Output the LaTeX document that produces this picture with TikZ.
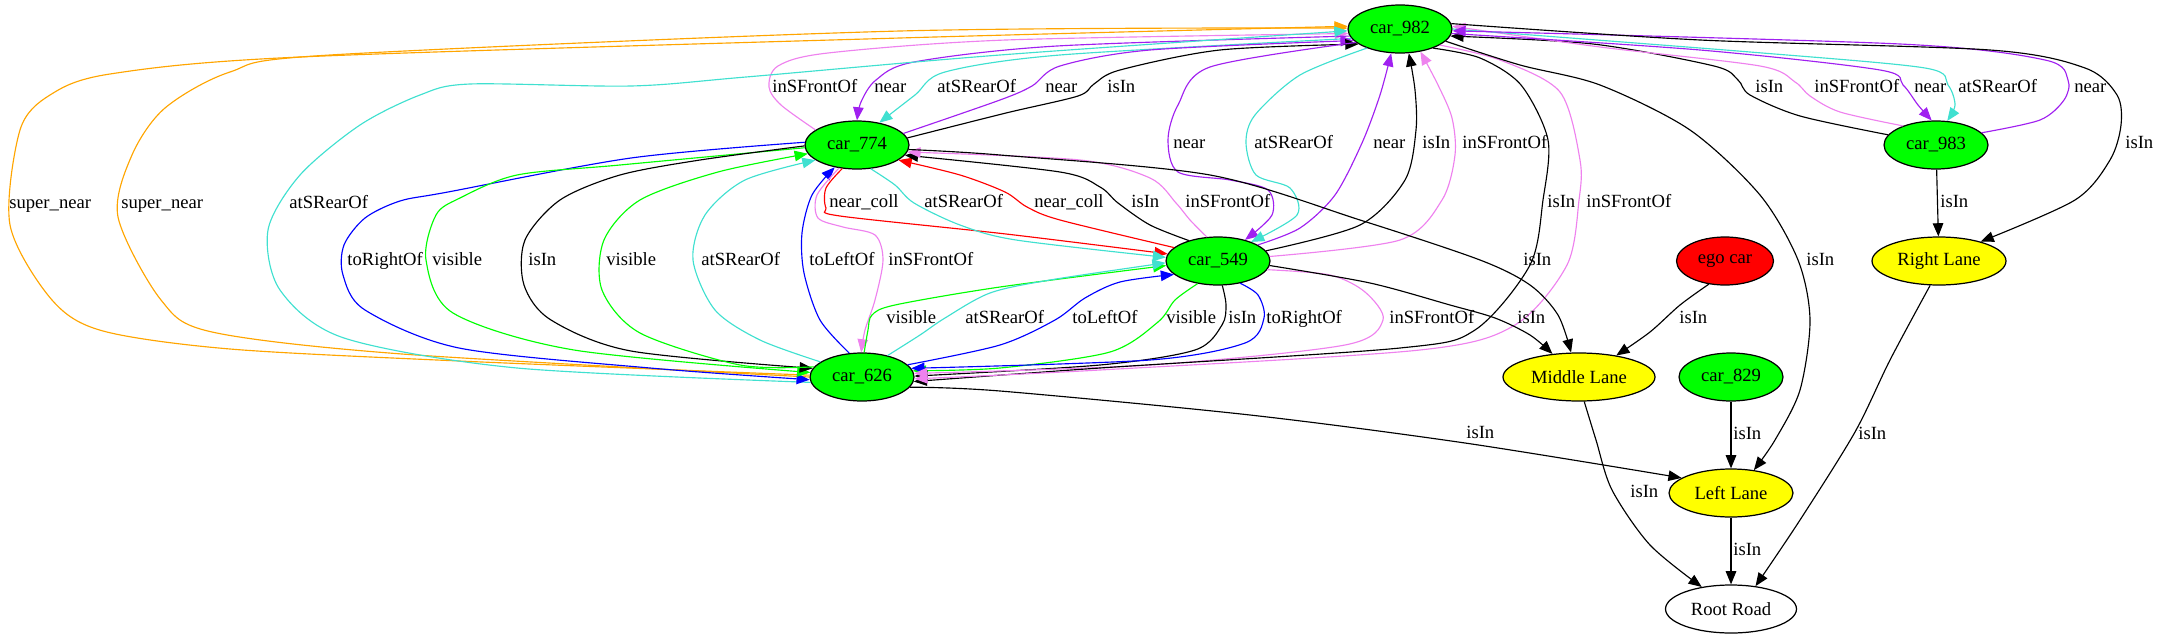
\documentclass[tikz,border=0pt]{standalone}
\usepackage{fontspec}
\setmainfont{Liberation Serif}
\usetikzlibrary{arrows.meta,shapes.geometric}
\definecolor{cGreen}{HTML}{00FF00}
\definecolor{cRed}{HTML}{FF0000}
\definecolor{cYellow}{HTML}{FFFF00}
\definecolor{cOrange}{HTML}{FFA500}
\definecolor{cTurq}{HTML}{40E0D0}
\definecolor{cViolet}{HTML}{EE82EE}
\definecolor{cPurple}{HTML}{A020F0}
\definecolor{cBlue}{HTML}{0000FF}
\newcommand{\gvf}{\fontsize{10.6pt}{12pt}\selectfont}
\tikzset{
  obj/.style={ellipse,draw,line width=0.7pt,inner sep=0pt,minimum height=0.96cm,font=\gvf},
  car/.style={obj,fill=cGreen,minimum width=2.08cm},
  lane/.style={obj,fill=cYellow},
  rel/.style={line width=0.65pt,-{Triangle[length=7.5pt,width=6pt]}},
  lbl/.style={anchor=west,inner sep=0pt,text height=1.45ex,text depth=0.2ex,font=\gvf},
}

\begin{document}
\begin{tikzpicture}[x=0.02cm,y=-0.02cm]
    \useasboundingbox (0,0) rectangle (2157,639);
    % objects
    \node[car] (c982) at (1400,29) {car\_982};
    \node[car] (c774) at (857,145) {car\_774};
    \node[car] (c983) at (1936,145) {car\_983};
    \node[car] (c549) at (1218,261) {car\_549};
    \node[car] (c626) at (862,377) {car\_626};
    \node[car] (c829) at (1731,377) {car\_829};
    \node[obj,fill=cRed,minimum width=1.94cm] (ego) at (1725,261) {ego car};
    \node[lane,minimum width=2.68cm] (rl) at (1939,261) {Right Lane};
    \node[lane,minimum width=3.04cm] (ml) at (1579,377) {Middle Lane};
    \node[lane,minimum width=2.48cm] (ll) at (1731,493) {Left Lane};
    \node[obj,minimum width=2.62cm] (rr) at (1731,609) {Root Road};
    % car_774 <-> car_982
    \draw[rel,cViolet] plot[smooth] coordinates {(c774.160) (781,105) (769,87) (778,66) (828,53) (1006,40) (c982.185)};
    \node[lbl] (l1) at (772,87) {inSFrontOf};
    \draw[rel,cPurple] plot[smooth] coordinates {(c982.188) (1057,46) (914,62) (876,80) (861,102) (c774.90)};
    \node[lbl] (l2) at (874,87) {near};
    \draw[rel,cTurq] plot[smooth] coordinates {(c982.191) (1060,55) (945,72) (915,95) (c774.45)};
    \node[lbl] (l3) at (937,87) {atSRearOf};
    \draw[rel,cPurple] plot[smooth] coordinates {(c774.14) (1000,100) (1032,86) (1060,66) (1150,50) (c982.194)};
    \node[lbl] (l4) at (1045,87) {near};
    \draw[rel] plot[smooth] coordinates {(c774.8) (1006,113) (1078,96) (1094,84) (1120,70) (1220,50) (c982.200)};
    \node[lbl] (l5) at (1107,87) {isIn};
    % car_983 <-> car_982
    \draw[rel] plot[smooth] coordinates {(c983.168) (1800,116) (1750,95) (1738,80) (1714,66) (1593,44) (c982.352)};
    \node[lbl] (l6) at (1755,87) {isIn};
    \draw[rel,cViolet] plot[smooth] coordinates {(c983.150) (1840,112) (1810,96) (1795,82) (1760,66) (1600,47) (c982.3)};
    \node[lbl] (l7) at (1814,87) {inSFrontOf};
    \draw[rel,cPurple] plot[smooth] coordinates {(c982.355) (1700,50) (1880,70) (1903,85) (1918,105) (c983.100)};
    \node[lbl] (l8) at (1914,87) {near};
    \draw[rel,cTurq] plot[smooth] coordinates {(c982.0) (1750,52) (1925,68) (1948,85) (1955,105) (c983.65)};
    \node[lbl] (l9) at (1958,87) {atSRearOf};
    \draw[rel,cPurple] plot[smooth] coordinates {(c983.15) (2040,120) (2064,100) (2068,80) (2045,60) (1900,44) (c982.358)};
    \node[lbl] (l10) at (2074,87) {near};
    \draw[rel] plot[smooth] coordinates {(c982.6) (1700,40) (1990,50) (2085,68) (2117,95) (2121,125) (2110,160) (2075,200) (rl.25)};
    \node[lbl] (l11) at (2125,143) {isIn};
    \draw[rel] (c983) -- (rl);
    \node[lbl] (l12) at (1940,202) {isIn};
    % car_982 <-> car_549
    \draw[rel,cPurple] plot[smooth] coordinates {(c982.197) (1210,67) (1178,105) (1168,140) (1178,172) (1230,180) (1268,190) (1272,215) (c549.38)};
    \node[lbl] (l13) at (1173,143) {near};
    \draw[rel,cTurq] plot[smooth] coordinates {(c982.210) (1300,75) (1255,115) (1246,143) (1256,175) (1290,188) (1297,215) (c549.30)};
    \node[lbl] (l14) at (1254,143) {atSRearOf};
    \draw[rel,cPurple] plot[smooth] coordinates {(c549.22) (1300,228) (1335,195) (1362,143) (1380,95) (c982.250)};
    \node[lbl] (l15) at (1373,143) {near};
    \draw[rel] plot[smooth] coordinates {(c549.12) (1360,225) (1405,180) (1416,130) (1415,90) (c982.290)};
    \node[lbl] (l16) at (1422,143) {isIn};
    \draw[rel,cViolet] plot[smooth] coordinates {(c549.5) (1400,240) (1442,200) (1455,155) (1452,118) (1438,85) (c982.312)};
    \node[lbl] (l17) at (1462,143) {inSFrontOf};
    % car_626 -> car_982, round the left side
    \draw[rel,cOrange] plot[smooth] coordinates {(c626.178) (459,361) (230,349) (103,331) (52,300) (10,225) (20,130) (50,95) (110,74) (300,57) (900,38) (c982.177)};
    \node[lbl] (l18) at (9,203) {super\_near};
    \draw[rel,cOrange] plot[smooth] coordinates {(c626.180) (402,354) (212,332) (161,300) (118,217) (132,155) (165,108) (230,72) (330,55) (900,31) (c982.179)};
    \node[lbl] (l19) at (121,203) {super\_near};
    \draw[rel,cTurq] plot[smooth] coordinates {(c626.186) (517,368) (344,338) (280,290) (268,230) (300,175) (360,125) (420,95) (470,84) (631,86) (746,77) (1000,55) (c982.182)};
    \node[lbl] (l20) at (289,203) {atSRearOf};
    % car_774 <-> car_549
    \draw[rel,cRed] plot[smooth] coordinates {(c774.238) (826,188) (826,208) (840,216) (1006,234) (c549.172)};
    \node[lbl] (l21) at (829,202) {near\_coll};
    \draw[rel,cTurq] plot[smooth] coordinates {(c774.300) (895,185) (914,203) (960,225) (1016,240) (c549.176)};
    \node[lbl] (l22) at (924,202) {atSRearOf};
    \draw[rel,cRed] plot[smooth] coordinates {(c549.163) (1060,220) (1027,207) (1005,192) (960,175) (c774.340)};
    \node[lbl] (l23) at (1034,202) {near\_coll};
    \draw[rel] plot[smooth] coordinates {(c549.145) (1150,225) (1118,203) (1100,187) (1060,172) (c774.348)};
    \node[lbl] (l24) at (1131,202) {isIn};
    \draw[rel,cViolet] plot[smooth] coordinates {(c549.115) (1190,220) (1176,203) (1150,178) (1080,160) (c774.352)};
    \node[lbl] (l25) at (1185,202) {inSFrontOf};
    % car_774 <-> car_626
    \draw[rel,cBlue] plot[smooth] coordinates {(c774.177) (631,158) (448,192) (400,201) (365,218) (344,245) (343,275) (365,310) (459,348) (650,368) (c626.183)};
    \node[lbl] (l26) at (347,260) {toRightOf};
    \draw[rel,cGreen] plot[smooth] coordinates {(c774.183) (620,165) (517,175) (460,198) (436,215) (426,260) (453,313) (574,350) (c626.175)};
    \node[lbl] (l27) at (432,260) {visible};
    \draw[rel] plot[smooth] coordinates {(c774.181) (700,160) (620,175) (560,200) (525,240) (524,285) (551,320) (631,351) (c626.170)};
    \node[lbl] (l28) at (528,260) {isIn};
    \draw[rel,cGreen] plot[smooth] coordinates {(c626.168) (740,365) (640,333) (602,290) (604,240) (640,200) (718,172) (c774.190)};
    \node[lbl] (l29) at (606,260) {visible};
    \draw[rel,cTurq] plot[smooth] coordinates {(c626.160) (760,340) (715,310) (693,260) (705,215) (745,180) (c774.200)};
    \node[lbl] (l30) at (701,260) {atSRearOf};
    \draw[rel,cBlue] plot[smooth] coordinates {(c626.118) (820,320) (804,273) (802,233) (812,195) (c774.225)};
    \node[lbl] (l31) at (809,260) {toLeftOf};
    \draw[rel,cViolet] plot[smooth] coordinates {(c774.232) (817,195) (818,218) (843,227) (875,235) (883,260) (875,300) (865,330) (c626.92)};
    \node[lbl] (l32) at (888,260) {inSFrontOf};
    % car_549 <-> car_626
    \draw[rel,cGreen] plot[smooth] coordinates {(c626.85) (868,330) (872,315) (895,305) (1000,287) (c549.185)};
    \node[lbl] (l33) at (886,318) {visible};
    \draw[rel,cTurq] plot[smooth] coordinates {(c626.40) (920,335) (945,318) (990,293) (1050,280) (c549.182)};
    \node[lbl] (l34) at (965,318) {atSRearOf};
    \draw[rel,cBlue] plot[smooth] coordinates {(c626.15) (1000,345) (1055,320) (1085,298) (1120,282) (c549.197)};
    \node[lbl] (l35) at (1072,318) {toLeftOf};
    \draw[rel,cGreen] plot[smooth] coordinates {(c549.228) (1175,300) (1158,322) (1110,352) (1000,368) (c626.7)};
    \node[lbl] (l36) at (1166,318) {visible};
    \draw[rel] plot[smooth] coordinates {(c549.280) (1226,305) (1222,325) (1195,350) (1100,365) (c626.1)};
    \node[lbl] (l37) at (1228,318) {isIn};
    \draw[rel,cBlue] plot[smooth] coordinates {(c549.315) (1258,295) (1264,318) (1245,343) (1150,360) (c626.10)};
    \node[lbl] (l38) at (1266,318) {toRightOf};
    \draw[rel,cViolet] plot[smooth] coordinates {(c549.350) (1330,275) (1365,292) (1383,320) (1345,345) (1150,365) (c626.4)};
    \node[lbl] (l39) at (1389,318) {inSFrontOf};
    % car_982 -> car_626
    \draw[rel] plot[smooth] coordinates {(c982.330) (1480,58) (1521,85) (1548,140) (1543,200) (1530,265) (1475,330) (1400,348) (1100,368) (c626.355)};
    \node[lbl] (l40) at (1547,202) {isIn};
    \draw[rel,cViolet] plot[smooth] coordinates {(c982.338) (1500,60) (1560,92) (1580,160) (1579,200) (1567,265) (1515,325) (1420,350) (1100,370) (c626.358)};
    \node[lbl] (l41) at (1586,202) {inSFrontOf};
    % lanes
    \draw[rel] plot[smooth] coordinates {(c549.355) (1370,283) (1450,305) (1495,318) (1530,335) (ml.139)};
    \node[lbl] (l42) at (1517,318) {isIn};
    \draw[rel] plot[smooth] coordinates {(c774.355) (1000,155) (1210,175) (1360,220) (1480,260) (1530,285) (1558,315) (ml.108)};
    \node[lbl] (l43) at (1523,260) {isIn};
    \draw[rel] plot[smooth] coordinates {(c982.345) (1520,65) (1600,85) (1690,130) (1760,195) (1798,260) (1810,320) (1800,390) (1775,440) (ll.45)};
    \node[lbl] (l44) at (1806,260) {isIn};
    \draw[rel] plot[smooth] coordinates {(ego.235) (1680,305) (1650,332) (ml.30)};
    \node[lbl] (l45) at (1679,318) {isIn};
    \draw[rel] (c829) -- (ll);
    \node[lbl] (l46) at (1733,434) {isIn};
    \draw[rel] plot[smooth] coordinates {(c626.348) (1000,391) (1250,415) (1465,443) (ll.163)};
    \node[lbl] (l47) at (1466,433) {isIn};
    \draw[rel] plot[smooth] coordinates {(ml.282) (1596,440) (1612,490) (1650,545) (rr.143)};
    \node[lbl] (l48) at (1630,492) {isIn};
    \draw[rel] (ll) -- (rr);
    \node[lbl] (l49) at (1733,550) {isIn};
    \draw[rel] plot[smooth] coordinates {(rl.250) (1890,360) (1855,432) (1800,520) (rr.43)};
    \node[lbl] (l50) at (1858,434) {isIn};
\end{tikzpicture}
\end{document}
